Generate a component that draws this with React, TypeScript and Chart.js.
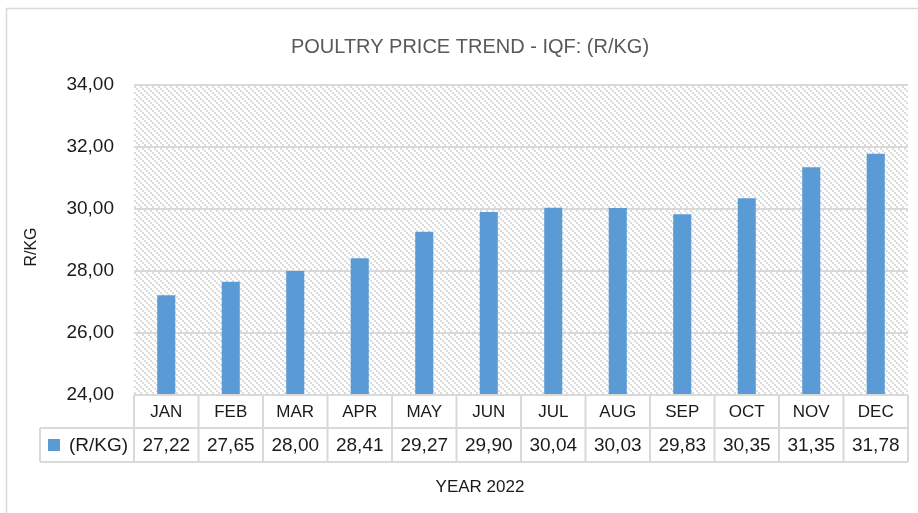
import React, { useEffect, useRef } from "react";
import { Chart, registerables } from "chart.js";

Chart.register(...registerables);

const MONTHS = ["JAN", "FEB", "MAR", "APR", "MAY", "JUN", "JUL", "AUG", "SEP", "OCT", "NOV", "DEC"];
const PRICES = [27.22, 27.65, 28.0, 28.41, 29.27, 29.9, 30.04, 30.03, 29.83, 30.35, 31.35, 31.78];
const Y_TICKS = [24, 26, 28, 30, 32, 34];
const SERIES_NAME = "(R/KG)";
const TITLE = "POULTRY PRICE TREND - IQF: (R/KG)";
const Y_TITLE = "R/KG";
const X_TITLE = "YEAR 2022";

const FONT = "'Liberation Sans', Arial, sans-serif";
const BAR_COLOR = "#5B9BD5";
const LINE_COLOR = "#d9d9d9";

const fmt = (v: number) => v.toFixed(2).replace(".", ",");

function makePattern(ctx: CanvasRenderingContext2D) {
  const c = document.createElement("canvas");
  c.width = 6;
  c.height = 6;
  const p = c.getContext("2d")!;
  p.fillStyle = "#ffffff";
  p.fillRect(0, 0, 6, 6);
  p.fillStyle = "#dcdcdc";
  for (let i = 0; i < 6; i += 2) {
    p.fillRect(i, i, 2, 2);
  }
  return ctx.createPattern(c, "repeat");
}

const decorPlugin = {
  id: "decor",
  beforeDraw(chart: any) {
    const { ctx, chartArea } = chart;
    ctx.save();
    ctx.fillStyle = "#ffffff";
    ctx.fillRect(0, 0, chart.width, chart.height);
    ctx.strokeStyle = LINE_COLOR;
    ctx.lineWidth = 1.5;
    ctx.strokeRect(6.5, 8.5, 1000, 1000);
    const pat = makePattern(ctx);
    if (pat) {
      ctx.fillStyle = pat;
      ctx.fillRect(chartArea.left, chartArea.top, chartArea.right - chartArea.left, chartArea.bottom - chartArea.top);
    }
    ctx.restore();
  },
  afterDraw(chart: any) {
    const { ctx, chartArea } = chart;
    const xs = chart.scales.x;
    const n = MONTHS.length;
    const colW = (chartArea.right - chartArea.left) / n;
    const top = chartArea.bottom;
    const mid = top + 33;
    const bot = mid + 34;
    const legendLeft = 40;
    ctx.save();
    // title
    ctx.fillStyle = "#595959";
    ctx.font = `20px ${FONT}`;
    ctx.textAlign = "center";
    ctx.textBaseline = "middle";
    ctx.fillText(TITLE, 470, 47);
    // y title
    ctx.save();
    ctx.translate(32, 247);
    ctx.rotate(-Math.PI / 2);
    ctx.fillStyle = "#1a1a1a";
    ctx.font = `16px ${FONT}`;
    ctx.fillText(Y_TITLE, 0, 0);
    ctx.restore();
    // x title
    ctx.fillStyle = "#1a1a1a";
    ctx.font = `17px ${FONT}`;
    ctx.fillText(X_TITLE, 480, 487);

    // table lines
    ctx.strokeStyle = LINE_COLOR;
    ctx.lineWidth = 2;
    ctx.beginPath();
    ctx.moveTo(chartArea.left, top);
    ctx.lineTo(chartArea.right, top);
    ctx.moveTo(legendLeft, mid);
    ctx.lineTo(chartArea.right, mid);
    ctx.moveTo(legendLeft, bot);
    ctx.lineTo(chartArea.right, bot);
    ctx.moveTo(legendLeft, mid);
    ctx.lineTo(legendLeft, bot);
    for (let i = 0; i <= n; i++) {
      const x = xs.getPixelForValue(Math.min(i, n - 1)) + (i === n ? colW / 2 : -colW / 2);
      ctx.moveTo(x, top);
      ctx.lineTo(x, bot);
    }
    ctx.stroke();

    // table text
    ctx.fillStyle = "#1a1a1a";
    ctx.textAlign = "center";
    for (let i = 0; i < n; i++) {
      const cx = xs.getPixelForValue(i);
      ctx.font = `17px ${FONT}`;
      ctx.fillText(MONTHS[i], cx, (top + mid) / 2 + 1);
      ctx.font = `19px ${FONT}`;
      ctx.fillText(fmt(PRICES[i]), cx, (mid + bot) / 2 + 1);
    }
    // legend key
    ctx.fillStyle = BAR_COLOR;
    ctx.fillRect(48, 439, 12, 12);
    ctx.fillStyle = "#1a1a1a";
    ctx.textAlign = "left";
    ctx.font = `19px ${FONT}`;
    ctx.fillText(SERIES_NAME, 69, (mid + bot) / 2 + 1);
    ctx.restore();
  },
};

export default function App() {
  const ref = useRef<HTMLCanvasElement | null>(null);
  useEffect(() => {
    if (!ref.current) return;
    const chart = new Chart(ref.current, {
      type: "bar",
      data: {
        labels: MONTHS,
        datasets: [
          {
            label: SERIES_NAME,
            data: PRICES,
            backgroundColor: BAR_COLOR,
            borderWidth: 0,
            categoryPercentage: 1,
            barPercentage: 0.28,
          },
        ],
      },
      options: {
        animation: false,
        responsive: false,
        layout: { padding: { top: 85, right: 10, bottom: 118, left: 0 } },
        plugins: { legend: { display: false }, title: { display: false }, tooltip: { enabled: false } },
        scales: {
          x: { display: false },
          y: {
            min: 24,
            max: 34,
            afterBuildTicks: (scale: any) => {
              scale.ticks = Y_TICKS.map((v) => ({ value: v }));
            },
            afterFit: (scale: any) => {
              scale.width = 134;
            },
            border: { display: false },
            grid: { color: LINE_COLOR, lineWidth: 2, drawTicks: false, tickLength: 0 },
            ticks: {
              padding: 20,
              color: "#1a1a1a",
              font: { family: FONT, size: 19 },
              callback: (v: any) => fmt(Number(v)),
            },
          },
        },
      },
      plugins: [decorPlugin],
    });
    return () => chart.destroy();
  }, []);
  return (
    <div style={{ position: "fixed", left: 0, top: 0, width: 918, height: 513, background: "#fff" }}>
      <canvas ref={ref} width={918} height={513} style={{ display: "block" }} />
    </div>
  );
}
